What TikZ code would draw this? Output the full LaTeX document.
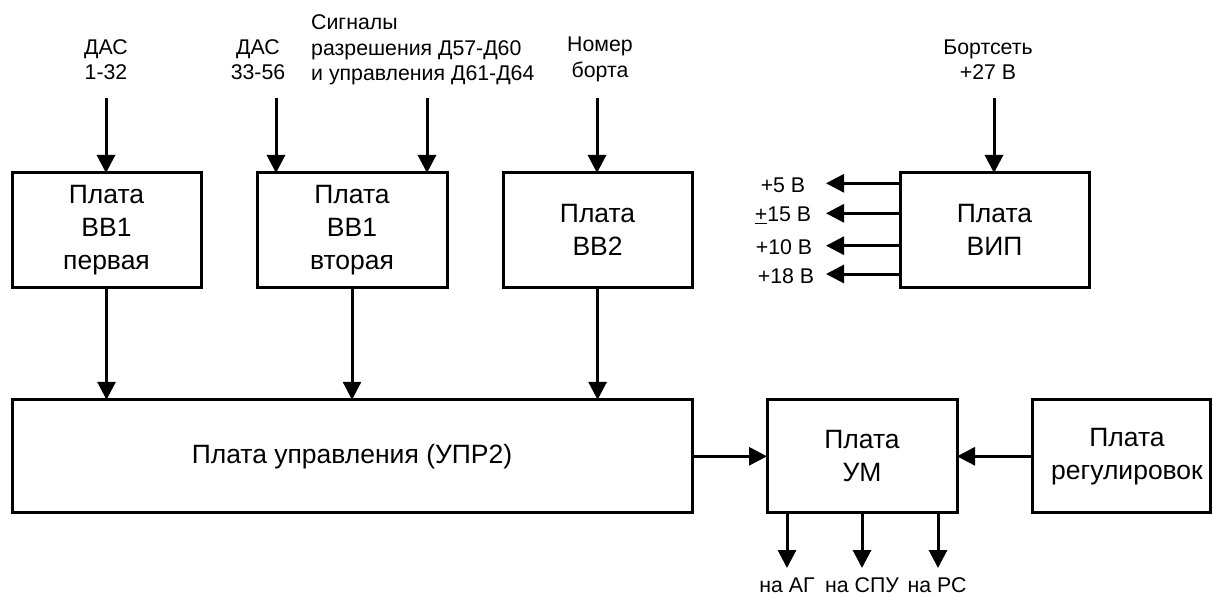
\documentclass[tikz,border=0pt]{standalone}
\usepackage{fontspec}
\setmainfont{Liberation Sans}
\usetikzlibrary{arrows.meta}
\begin{document}
\begin{tikzpicture}[x=1pt,y=-1pt,
  box/.style={draw, line width=3pt, inner sep=0pt, outer sep=0pt, align=center, font=\fontsize{26.5}{33}\selectfont},
  boxtext/.style={inner sep=0pt, align=center, font=\fontsize{26.5}{33}\selectfont},
  lbl/.style={inner sep=0pt, align=center, font=\fontsize{21.3}{25.5}\selectfont},
  arr/.style={line width=3pt, -{Triangle[length=18pt,width=18pt]}},
]
\useasboundingbox (0,0) rectangle (1213,596);

% top row boxes
\node[box, minimum width=189pt, minimum height=114pt] (b1) at (106.5,230) {Плата\\ВВ1\\первая};
\node[box, minimum width=190pt, minimum height=114pt] (b2) at (352,230) {Плата\\ВВ1\\вторая};
\node[box, minimum width=189pt, minimum height=114pt] (b3) at (597.6,230) {Плата\\ВВ2};
\node[box, minimum width=189pt, minimum height=114pt] (vip) at (994.5,230) {Плата\\ВИП};

% bottom row boxes
\node[box, minimum width=680pt, minimum height=113pt] (upr) at (352,456.3) {Плата управления (УПР2)};
\node[box, minimum width=178pt, minimum height=113pt] (reg) at (1121,456.3) {};
\node[box, minimum width=190pt, minimum height=113pt] (um) at (862,456.3) {Плата\\УМ};
\node[boxtext] (regt) at (1127,456.3) {Плата\\регулировок};

% top labels
\node[lbl] (t1) at (106,59.5) {ДАС\\1-32};
\node[lbl] (t2) at (258,59.5) {ДАС\\33-56};
\node[lbl, align=left, anchor=west] (t3) at (311,50) {Сигналы\\разрешения Д57-Д60\\и управления Д61-Д64};
\node[lbl] (t4) at (600,59.5) {Номер\\борта};
\node[lbl] (t5) at (988,59.5) {Бортсеть\\+27 В};

% input arrows
\coordinate (a1) at (106,98);
\coordinate (a2) at (276,98);
\coordinate (a3) at (427,98);
\coordinate (a4) at (597,98);
\coordinate (a5) at (994,98);
\draw[arr] (a1) -- (a1 |- b1.north);
\draw[arr] (a2) -- (a2 |- b2.north);
\draw[arr] (a3) -- (a3 |- b2.north);
\draw[arr] (a4) -- (a4 |- b3.north);
\draw[arr] (a5) -- (a5 |- vip.north);

% boards to control board
\draw[arr] (b1.south) -- (b1.south |- upr.north);
\draw[arr] (b2.south) -- (b2.south |- upr.north);
\draw[arr] (b3.south) -- (b3.south |- upr.north);

% power outputs
\coordinate (v1) at (826,183.3);
\coordinate (v2) at (826,213.3);
\coordinate (v3) at (826,245.7);
\coordinate (v4) at (826,274);
\draw[arr] (vip.west |- v1) -- (v1);
\draw[arr] (vip.west |- v2) -- (v2);
\draw[arr] (vip.west |- v3) -- (v3);
\draw[arr] (vip.west |- v4) -- (v4);
\node[lbl] (p1) at (783,185) {+5 В};
\node[lbl] (p2) at (783,215) {\underline{+}15 В};
\node[lbl] (p3) at (784,247) {+10 В};
\node[lbl] (p4) at (786,276) {+18 В};

% control to amplifier
\draw[arr] (upr.east) -- (um.west);
\draw[arr] (reg.west) -- (um.east);

% outputs
\coordinate (d1) at (787,568);
\coordinate (d2) at (862,568);
\coordinate (d3) at (938,568);
\draw[arr] (um.south -| d1) -- (d1);
\draw[arr] (um.south -| d2) -- (d2);
\draw[arr] (um.south -| d3) -- (d3);
\node[lbl, anchor=base] (n1) at (787,592.5) {на АГ};
\node[lbl, anchor=base] (n2) at (862,592.5) {на СПУ};
\node[lbl, anchor=base] (n3) at (937,592.5) {на РС};
\end{tikzpicture}
\end{document}
